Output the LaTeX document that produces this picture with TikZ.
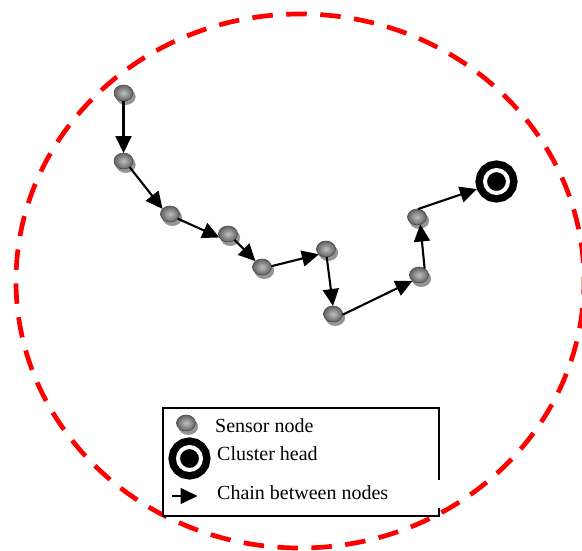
\documentclass[tikz,border=0pt]{standalone}
\usepackage{fontspec}
\setmainfont{Liberation Serif}
\usetikzlibrary{arrows.meta,shapes.geometric}
\tikzset{
  sensor/.style={ellipse,inner sep=0pt,minimum width=19pt,minimum height=16pt,
    draw=black!70,line width=.6pt,outer sep=0pt,
    inner color=black!25,outer color=black!62,
    preaction={fill=black!42,draw=black!42,transform canvas={shift={(2.3pt,-3.6pt)}}}},
  head/.style={circle,inner sep=0pt,minimum size=23pt,fill=black,draw=black,
    double=white,double distance=4pt,line width=7.5pt,outer sep=9.5pt},
  chain/.style={line width=2.1pt,draw=black,-{Triangle[length=17pt,width=16pt]}},
  zone/.style={draw=red,line width=4.7pt,dash pattern=on 20.5pt off 13.5pt,dash phase=7pt},
  legendbox/.style={draw=black,line width=1.6pt,fill=white,inner sep=0pt,
    minimum width=276pt,minimum height=108pt},
  legendtext/.style={anchor=base west,inner sep=0pt,font=\fontsize{20}{24}\selectfont},
  gapmark/.style={fill=white,draw=none}
}
\begin{document}
\begin{tikzpicture}[x=1pt,y=-1pt]
\useasboundingbox (0,0) rectangle (582,550);
\clip (0,0) rectangle (582,550);
\draw[zone] (300,281) ellipse [x radius=284,y radius=267];
\node[sensor] (n1) at (123.5,93) {};
\node[sensor] (n2) at (123.5,161) {};
\node[sensor] (n3) at (170,214) {};
\node[sensor] (n4) at (228,234) {};
\node[sensor] (n5) at (262,267) {};
\node[sensor] (n6) at (326,249) {};
\node[sensor] (n7) at (333,314) {};
\node[sensor] (n8) at (419,275) {};
\node[sensor] (n9) at (417,217) {};
\node[head] (ch) at (496.5,181.5) {};
\draw[chain] (n1.south) -- (n2.north);
\draw[chain] (n2.-45) -- (n3.146);
\draw[chain] (n3.-31) -- (n4.202);
\draw[chain] (n4.-42) -- (n5.138);
\draw[chain] (n5.5) -- (n6.217);
\draw[chain] (n6.-85) -- (n7.90);
\draw[chain] (n7.-5) -- (n8.222);
\draw[chain] (n8.49) -- (n9.-66);
\draw[chain] (n9.83) -- (ch.201);
\node[legendbox] (legend) at (301,462) {};
\fill[gapmark] (438,480) rectangle (439.5,508);
\node[sensor] (ls) at (186,423) {};
\node[head] (lh) at (189.5,458.5) {};
\coordinate (la) at (171.5,496);
\coordinate (lb) at (197.5,496);
\draw[chain,line width=1.5pt] (la) -- (lb);
\node[legendtext] (t1) at (215,432.5) {Sensor node};
\node[legendtext] (t2) at (217,460) {Cluster head};
\node[legendtext] (t3) at (217,499) {Chain between nodes};
\end{tikzpicture}
\end{document}
